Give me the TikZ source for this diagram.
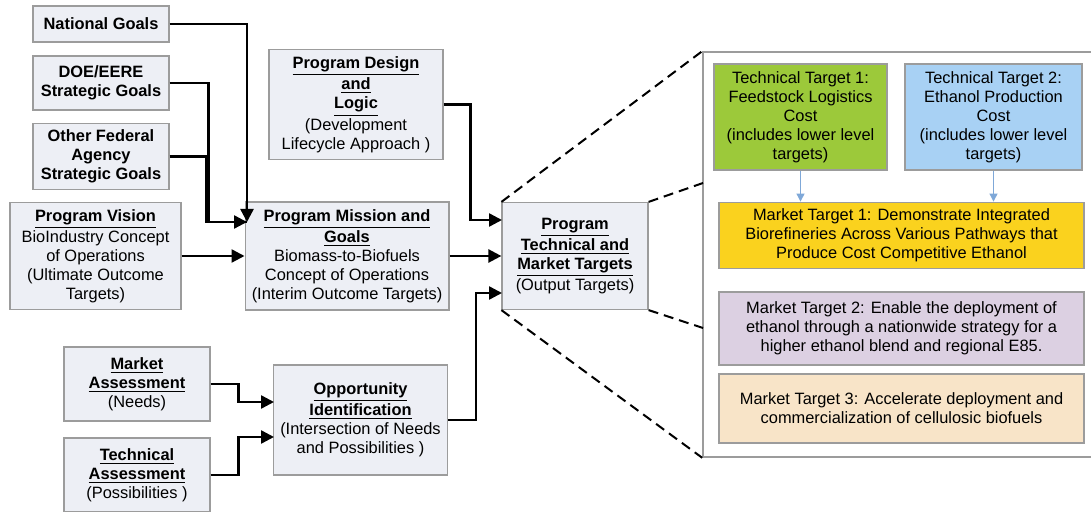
\documentclass[tikz,border=0pt]{standalone}
\usepackage{fontspec}
\setmainfont{Liberation Sans}
\usetikzlibrary{arrows.meta}
\definecolor{boxgrey}{HTML}{EDEFF5}
\definecolor{edgegrey}{HTML}{9C9C9C}
\definecolor{ttgreen}{HTML}{9CC93A}
\definecolor{ttblue}{HTML}{A8D1F4}
\definecolor{mtyellow}{HTML}{FAD21E}
\definecolor{mtlilac}{HTML}{DCD0E2}
\definecolor{mtpeach}{HTML}{F8E4C8}
\definecolor{flowblue}{HTML}{7FA8D8}
\tikzset{
goalbox/.style={
	draw=edgegrey, line width=0.6pt, fill=boxgrey, align=center,
	font=\fontsize{8.2}{9.5}\selectfont},
boxsize/.style 2 args={minimum width=#1*0.5pt, minimum height=#2*0.5pt},
targetbox/.style={goalbox, fill=#1},
flow/.style={line width=1.2pt, -{Triangle[length=6.5pt,width=6.5pt]}},
link/.style={line width=1.2pt},
zoomline/.style={line width=1pt, dash pattern=on 5pt off 3pt},
feed/.style={flowblue, line width=0.5pt, -{Triangle[length=4pt,width=4pt]}}
}
\newcommand{\headline}[1]{\textbf{\underline{#1}}}

\begin{document}
\begin{tikzpicture}[x=0.5pt, y=-0.5pt]
	\useasboundingbox (0,0) rectangle (1091,512);
	\node[goalbox, boxsize={136}{36}] (natgoals) at (101,24) {\textbf{National Goals}};
	\node[goalbox, boxsize={136}{54}] (doe) at (101,83) {\textbf{DOE/EERE}\\\textbf{Strategic Goals}};
	\node[goalbox, boxsize={136}{63}] (other) at (101,156.5) {\textbf{Other Federal}\\\textbf{Agency}\\\textbf{Strategic Goals}};
	\node[goalbox, boxsize={171}{105}] (vision) at (95.5,256) {\headline{Program Vision}\\BioIndustry Concept\\of Operations\\(Ultimate Outcome\\Targets)};
	\node[goalbox, boxsize={200}{108}] (mission) at (347,256) {\headline{Program Mission and}\\\headline{Goals}\\Biomass-to-Biofuels\\Concept of Operations\\(Interim Outcome Targets)};
	\node[goalbox, boxsize={174}{105}] (design) at (356,104.5) {\headline{Program Design}\\\headline{and}\\\headline{Logic}\\(Development\\Lifecycle Approach )};
	\node[goalbox, boxsize={146}{107}] (ptm) at (575,256) {\headline{Program}\\\headline{Technical and}\\\headline{Market Targets}\\(Output Targets)};
	\node[goalbox, boxsize={146}{74}] (market) at (137,384) {\headline{Market}\\\headline{Assessment}\\(Needs)};
	\node[goalbox, boxsize={146}{74}] (technical) at (137,475) {\headline{Technical}\\\headline{Assessment}\\(Possibilities )};
	\node[goalbox, boxsize={173}{110}] (opport) at (360.5,420) {\headline{Opportunity}\\\headline{Identification}\\(Intersection of Needs\\and Possibilities )};

	\node[draw=edgegrey, line width=0.8pt, fill=white, boxsize={400}{405}] (panel) at (903,254.5) {};
	\node[targetbox=ttgreen, boxsize={173}{106}] (tt1) at (800.5,117) {Technical Target 1:\\Feedstock Logistics\\Cost\\(includes lower level\\targets)};
	\node[targetbox=ttblue, boxsize={177}{106}] (tt2) at (993.5,117) {Technical Target 2:\\Ethanol Production\\Cost\\(includes lower level\\targets)};
	\node[targetbox=mtyellow, boxsize={365}{65}] (mt1) at (901.5,235.5) {Market Target 1: Demonstrate Integrated\\Biorefineries Across Various Pathways that\\Produce Cost Competitive Ethanol};
	\node[targetbox=mtlilac, boxsize={365}{73}] (mt2) at (901.5,328.5) {Market Target 2: Enable the deployment of\\ethanol through a nationwide strategy for a\\higher ethanol blend and regional E85.};
	\node[targetbox=mtpeach, boxsize={365}{69}] (mt3) at (901.5,408.5) {Market Target 3: Accelerate deployment and\\commercialization of cellulosic biofuels};

	\coordinate (mjoin) at (247,222);
	\coordinate (ptin1) at (502,220);
	\coordinate (ptin2) at (502,293);
	\coordinate (opin1) at (274,402);
	\coordinate (opin2) at (274,437);
	\coordinate (zoomhi) at (703,183);
	\coordinate (zoomlo) at (703,328);

	\draw[flow] (natgoals.east) -| (mjoin);
	\draw[link] (other.east) -- ++(37,0) |- (mjoin);
	\draw[flow] (doe.east) -- ++(39,0) |- (mjoin);
	\draw[flow] (vision.east) -- (vision.east -| mission.west);
	\draw[flow] (mission.east) -- (mission.east -| ptm.west);
	\draw[flow] (design.east) -- ++(27,0) |- (ptin1);
	\draw[flow] (opport.east) -- ++(28,0) |- (ptin2);
	\draw[flow] (market.east) -- ++(28,0) |- (opin1);
	\draw[flow] (technical.east) -- ++(28,0) |- (opin2);

	\draw[feed] (tt1.south) -- (tt1.south |- mt1.north);
	\draw[feed] (tt2.south) -- (tt2.south |- mt1.north);

	\draw[zoomline] (ptm.north west) -- (panel.north west);
	\draw[zoomline] (ptm.north east) -- (zoomhi);
	\draw[zoomline] (ptm.south east) -- (zoomlo);
	\draw[zoomline] (ptm.south west) -- (panel.south west);
\end{tikzpicture}
\end{document}
